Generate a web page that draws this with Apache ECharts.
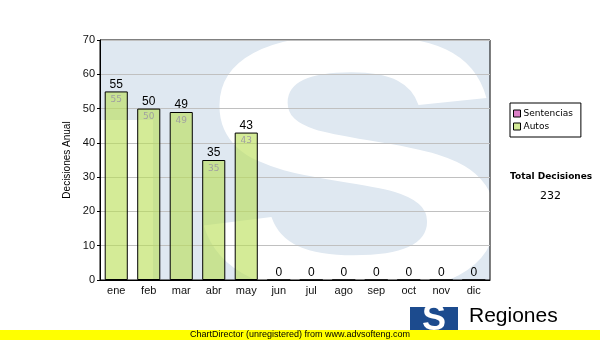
<!DOCTYPE html>
<html>
<head>
<meta charset="utf-8">
<script src="https://cdn.jsdelivr.net/npm/echarts@6/dist/echarts.min.js"></script>
<style>
html,body{margin:0;padding:0;background:#fff;}
#chart{width:600px;height:340px;}
</style>
</head>
<body>
<div id="chart"></div>
<script>
const categories = ['ene','feb','mar','abr','may','jun','jul','ago','sep','oct','nov','dic'];
const autos = [55, 50, 49, 35, 43, 0, 0, 0, 0, 0, 0, 0];
const sentencias = [0, 0, 0, 0, 0, 0, 0, 0, 0, 0, 0, 0];
const yMin = 0, yMax = 70, yInterval = 10;
const yAxisName = 'Decisiones Anual';
const totalLabel = 'Total Decisiones';
const totalValue = 232;
const footerText = 'ChartDirector (unregistered) from www.advsofteng.com';
const brandText = 'Regiones';

const chart = echarts.init(document.getElementById('chart'), null, {renderer: 'canvas'});
const wmBlue = '#dfe8f1';
const option = {
  animation: false,
  textStyle: {fontFamily: 'Liberation Sans, Arial, sans-serif'},
  grid: {left: 100, right: 110, top: 40, bottom: 60, show: true, borderColor: '#000', borderWidth: 1, backgroundColor: 'transparent'},
  legend: {
    data: ['Sentencias', 'Autos'],
    orient: 'vertical', left: 510, top: 103,
    borderColor: '#000', borderWidth: 1,
    padding: [6, 8, 6, 3],
    itemWidth: 7, itemHeight: 7, itemGap: 4,
    icon: 'rect',
    itemStyle: {borderColor: '#000', borderWidth: 1},
    textStyle: {fontSize: 9, fontFamily: 'DejaVu Sans', color: '#000', padding: [0, 0, 0, -2]}
  },
  xAxis: {
    type: 'category', data: categories,
    axisLine: {lineStyle: {color: '#000', width: 1}},
    axisTick: {alignWithLabel: true, length: 5, lineStyle: {color: '#000'}},
    axisLabel: {color: '#111', fontSize: 11, margin: 5}
  },
  yAxis: {
    type: 'value', min: yMin, max: yMax, interval: yInterval,
    name: yAxisName, nameLocation: 'middle', nameGap: 22,
    nameTextStyle: {fontSize: 10, color: '#000'},
    axisLine: {show: true, lineStyle: {color: '#000'}},
    axisTick: {show: true, length: 3, lineStyle: {color: '#000'}},
    axisLabel: {color: '#111', fontSize: 11, margin: 5},
    splitLine: {lineStyle: {color: '#c0c0c0', width: 1}}
  },
  series: [
    {
      name: 'Autos', type: 'bar', stack: 's', data: autos, barWidth: '71%',
      itemStyle: {color: 'rgba(186,223,87,0.62)', borderColor: '#000', borderWidth: 1},
      label: {show: true, position: 'insideTop', distance: 4, color: '#a0a0a0', fontSize: 9,
        fontFamily: 'DejaVu Sans',
        formatter: p => p.value ? String(p.value) : ''}
    },
    {
      name: 'Sentencias', type: 'bar', stack: 's', data: sentencias, barWidth: '71%',
      itemStyle: {color: '#dd80c8', borderWidth: 0},
      label: {show: true, position: 'top', distance: 1, color: '#000', fontSize: 12,
        formatter: p => String(autos[p.dataIndex] + sentencias[p.dataIndex])}
    }
  ],
  graphic: [
    {type: 'rect', z: -10, silent: true, shape: {x: 153, y: 40, width: 337, height: 240}, style: {fill: wmBlue}},
    {type: 'rect', z: -10, silent: true, shape: {x: 100, y: 40, width: 53, height: 80}, style: {fill: wmBlue}},
    {type: 'text', z: -9, silent: true, x: 352, y: 190, scaleX: 1.39, scaleY: 1.05,
      style: {text: 'S', font: 'bold 350px "Liberation Sans"', fill: '#ffffff', textAlign: 'center', textVerticalAlign: 'middle'}},
    {type: 'text', left: 510, top: 172, style: {text: totalLabel, font: 'bold 9px "DejaVu Sans"', fill: '#000'}},
    {type: 'text', left: 540, top: 191, style: {text: String(totalValue), font: '11px "DejaVu Sans"', fill: '#000'}},
    {type: 'rect', shape: {x: 410, y: 307, width: 48, height: 26}, style: {fill: '#1c4b8e'}},
    {type: 'text', x: 434, y: 320, style: {text: 'S', font: 'bold 36px "Liberation Sans"', fill: '#fff', textAlign: 'center', textVerticalAlign: 'middle'}},
    {type: 'text', x: 469, y: 316, style: {text: brandText, font: '21px "Liberation Sans"', fill: '#000', textVerticalAlign: 'middle'}},
    {type: 'rect', shape: {x: 0, y: 330, width: 600, height: 10}, style: {fill: '#ffff00'}},
    {type: 'text', x: 300, y: 335, style: {text: footerText, font: '9px "Liberation Sans"', fill: '#000', textAlign: 'center', textVerticalAlign: 'middle'}}
  ]
};
chart.setOption(option);
</script>
</body>
</html>
